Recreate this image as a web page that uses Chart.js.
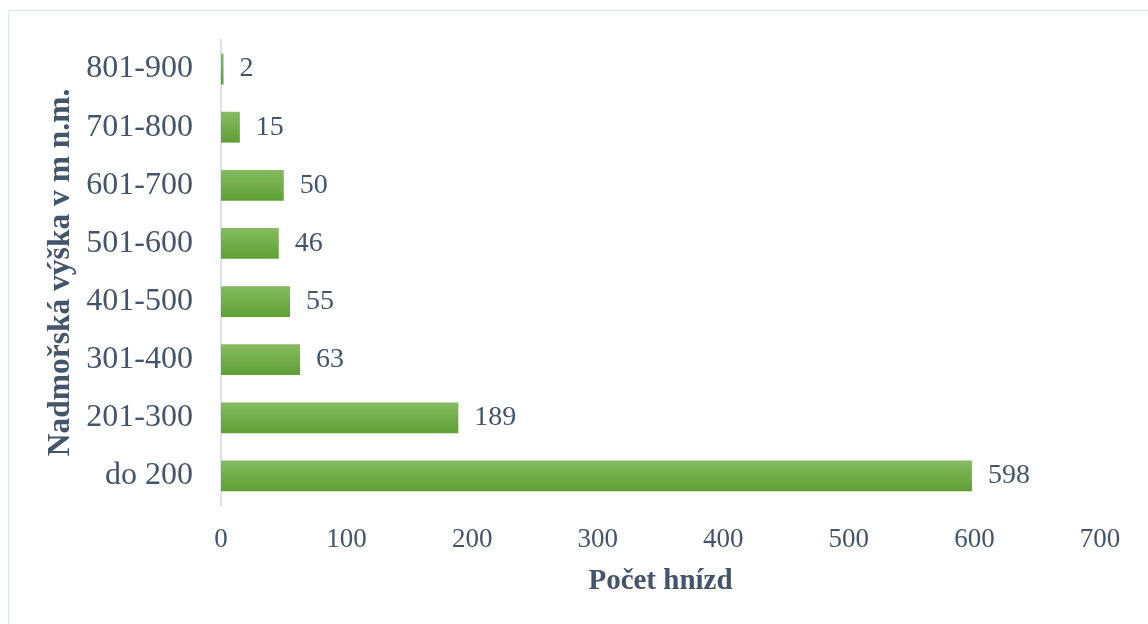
<!DOCTYPE html>
<html lang="cs">
<head>
<meta charset="UTF-8">
<title>Počet hnízd podle nadmořské výšky</title>
<script src="https://cdn.jsdelivr.net/npm/chart.js"></script>
<style>
  html, body { margin: 0; padding: 0; overflow: hidden; background: #fff; }
  #frame { position: absolute; left: 8px; top: 10px; width: 1160px; height: 640px; border: 1px solid #DDE1E8; }
  #wrap { position: absolute; left: 0; top: 0; width: 1148px; height: 624px; }
</style>
</head>
<body>
<div id="frame"></div>
<div id="wrap"><canvas id="chart" width="1148" height="624"></canvas></div>
<script>
// shora dolů
const vysky = ['801-900', '701-800', '601-700', '501-600', '401-500', '301-400', '201-300', 'do 200'];
const hnizda = [2, 15, 50, 46, 55, 63, 189, 598];
const osaX = [0, 100, 200, 300, 400, 500, 600, 700];

const textColor = '#44546A';
const serif = '"Liberation Serif", "Times New Roman", serif';

function barFill(ctx) {
    const chart = ctx.chart;
    const y = chart.scales && chart.scales.y;
    if (!y || ctx.type !== 'data') return '#70AD47';
    const c = y.getPixelForValue(ctx.dataIndex);
    if (!Number.isFinite(c)) return '#70AD47';
    const g = chart.ctx.createLinearGradient(0, c - 16, 0, c + 16);
    g.addColorStop(0, '#86BC62');
    g.addColorStop(1, '#5E9F33');
    return g;
}

const valueLabels = {
    id: 'valueLabels',
    afterDatasetsDraw(chart) {
        const c = chart.ctx;
        c.save();
        c.font = '28px ' + serif;
        c.fillStyle = textColor;
        c.textAlign = 'left';
        c.textBaseline = 'middle';
        chart.getDatasetMeta(0).data.forEach((bar, i) => {
            c.fillText(hnizda[i], bar.x + 16, bar.y);
        });
        c.restore();
    }
};

new Chart(document.getElementById('chart'), {
    type: 'bar',
    data: {
        labels: vysky,
        datasets: [{
            data: hnizda,
            backgroundColor: barFill,
            borderWidth: 0,
            barPercentage: 0.9,
            categoryPercentage: 0.59
        }]
    },
    options: {
        indexAxis: 'y',
        responsive: false,
        animation: false,
        layout: { padding: { top: 40, right: 48, bottom: 0, left: 0 } },
        plugins: { legend: { display: false }, tooltip: { enabled: false } },
        scales: {
            x: {
                min: 0,
                max: 700,
                afterBuildTicks(scale) { scale.ticks = osaX.map(v => ({ value: v })); },
                afterFit(scale) { scale.height = 119; },
                grid: { display: false, drawTicks: false },
                border: { display: false },
                ticks: { color: textColor, font: { family: serif, size: 27 }, padding: 19 },
                title: {
                    display: true,
                    text: 'Počet hnízd',
                    color: textColor,
                    font: { family: serif, size: 29, weight: 'bold' },
                    padding: { top: 0, bottom: 25 }
                }
            },
            y: {
                afterFit(scale) {
                    scale.width = 221;
                    scale.paddingTop = 0;
                    scale.paddingBottom = 0;
                },
                grid: { display: false, drawTicks: false },
                border: { display: true, color: '#DDE1E8', width: 2 },
                ticks: { color: textColor, font: { family: serif, size: 32 }, padding: 28 },
                title: {
                    display: true,
                    text: 'Nadmořská výška v m n.m.',
                    color: textColor,
                    font: { family: serif, size: 31.5, weight: 'bold' },
                    padding: { top: 42, bottom: 0 }
                }
            }
        }
    },
    plugins: [valueLabels]
});
</script>
</body>
</html>
